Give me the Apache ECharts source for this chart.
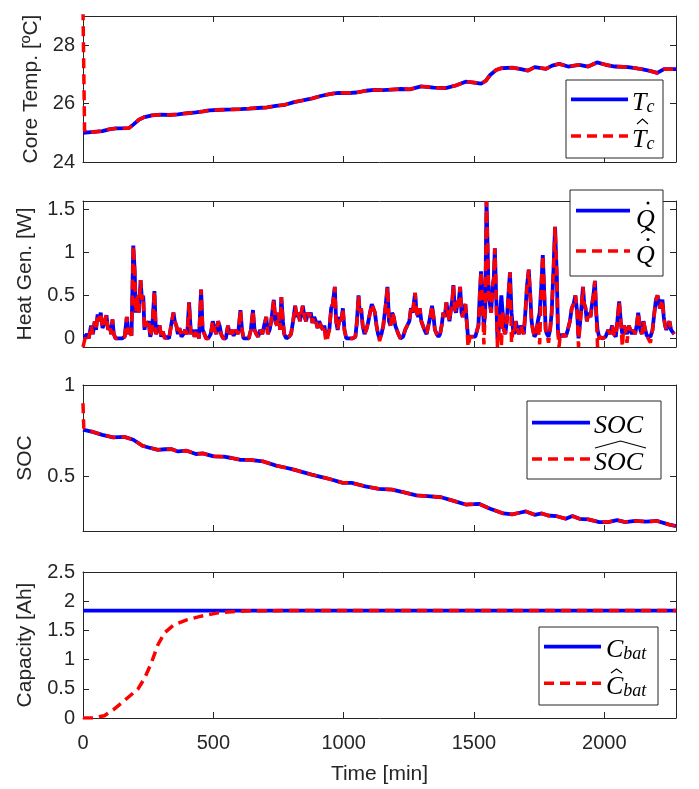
<!DOCTYPE html>
<html><head><meta charset="utf-8">
<script src="https://cdn.jsdelivr.net/npm/echarts@6/dist/echarts.min.js"></script>
<style>html,body{margin:0;padding:0;background:#fff}#c{width:699px;height:789px}</style>
</head><body><div id="c"></div>
<script>
// ---------- data ----------
const xTicks = [0, 500, 1000, 1500, 2000];
const tempTicks = [24, 26, 28];
const heatTicks = [0, 0.5, 1, 1.5];
const socTicks = [0.5, 1];
const capTicks = [0, 0.5, 1, 1.5, 2, 2.5];

const tempTime = [0,40,74,100,125,176,193,215,236,265,296,330,364,400,433,460,484,530,570,605,638,670,706,740,775,810,843,880,912,950,980,1015,1049,1085,1117,1150,1185,1220,1254,1297,1345,1391,1430,1468,1500,1527,1545,1562,1585,1604,1647,1680,1707,1733,1776,1800,1827,1861,1904,1938,1972,2005,2041,2092,2143,2175,2203,2229,2275];
const tempTrue = [25.00,25.03,25.06,25.12,25.15,25.16,25.28,25.45,25.54,25.60,25.62,25.61,25.63,25.67,25.70,25.73,25.77,25.79,25.80,25.81,25.83,25.85,25.87,25.92,25.96,26.05,26.11,26.18,26.26,26.33,26.37,26.36,26.38,26.44,26.47,26.46,26.48,26.50,26.49,26.59,26.55,26.53,26.62,26.75,26.72,26.68,26.78,26.98,27.15,27.21,27.23,27.18,27.13,27.25,27.19,27.30,27.36,27.27,27.33,27.27,27.41,27.33,27.27,27.25,27.18,27.12,27.05,27.18,27.18];
const tempEstTime = [0,6,12,40,74,100,125,176,193,215,236,265,296,330,364,400,433,460,484,530,570,605,638,670,706,740,775,810,843,880,912,950,980,1015,1049,1085,1117,1150,1185,1220,1254,1297,1345,1391,1430,1468,1500,1527,1545,1562,1585,1604,1647,1680,1707,1733,1776,1800,1827,1861,1904,1938,1972,2005,2041,2092,2143,2175,2203,2229,2275];
const tempEst = [29.2,25.1,25.0,25.03,25.06,25.12,25.15,25.16,25.28,25.45,25.54,25.60,25.62,25.61,25.63,25.67,25.70,25.73,25.77,25.79,25.80,25.81,25.83,25.85,25.87,25.92,25.96,26.05,26.11,26.18,26.26,26.33,26.37,26.36,26.38,26.44,26.47,26.46,26.48,26.50,26.49,26.59,26.55,26.53,26.62,26.75,26.72,26.68,26.78,26.98,27.15,27.21,27.23,27.18,27.13,27.25,27.19,27.30,27.36,27.27,27.33,27.27,27.41,27.33,27.27,27.25,27.18,27.12,27.05,27.18,27.18];

const heatTime = [0,8,15,22,31,38,45,50,56,62,68,75,82,90,96,102,108,113,118,125,135,150,160,168,174,180,186,193,198,203,208,214,221,226,231,236,241,246,252,258,265,274,280,287,294,300,306,314,322,330,338,347,352,358,364,370,378,385,392,400,407,414,420,428,436,445,453,459,466,472,480,490,498,505,512,518,524,530,538,548,556,563,570,578,586,595,604,610,616,626,636,644,652,658,665,672,680,688,695,703,709,716,722,732,738,744,750,756,761,767,772,780,790,798,806,814,820,826,832,843,850,856,862,868,874,880,887,893,900,906,913,920,926,932,938,945,952,958,966,971,977,985,991,997,1003,1010,1020,1035,1045,1051,1057,1062,1067,1073,1080,1087,1095,1101,1108,1114,1120,1126,1132,1138,1145,1152,1160,1168,1174,1180,1186,1192,1198,1204,1210,1218,1228,1236,1244,1252,1258,1265,1274,1280,1286,1292,1298,1304,1310,1318,1325,1332,1339,1345,1350,1357,1364,1370,1376,1382,1388,1394,1400,1406,1412,1417,1421,1426,1431,1436,1442,1447,1452,1457,1462,1467,1472,1477,1485,1495,1505,1512,1517,1522,1527,1533,1538,1543,1548,1552,1556,1561,1566,1571,1576,1580,1585,1590,1595,1600,1605,1610,1615,1620,1626,1632,1638,1644,1650,1655,1660,1667,1673,1679,1685,1691,1697,1703,1710,1716,1721,1726,1732,1738,1745,1752,1758,1764,1770,1775,1780,1786,1792,1798,1805,1811,1818,1822,1826,1832,1838,1845,1852,1860,1868,1875,1882,1889,1896,1901,1906,1912,1918,1923,1928,1933,1940,1947,1953,1958,1964,1969,1974,1980,1987,1995,2005,2015,2022,2030,2037,2044,2050,2057,2063,2069,2075,2081,2087,2094,2100,2106,2112,2118,2124,2130,2138,2144,2150,2157,2163,2170,2177,2185,2192,2198,2204,2208,2213,2218,2223,2228,2233,2238,2244,2250,2256,2262,2268,2275];
const heatTrue = [0.02,0.02,0.05,0.0,0.15,0.05,0.2,0.1,0.28,0.2,0.3,0.12,0.18,0.27,0.1,0.15,0.05,0.22,0.05,0.0,0.0,0.0,0.02,0.25,0.05,0.1,0.03,1.08,0.8,0.3,0.5,0.3,0.68,0.45,0.5,0.1,0.2,0.15,0.2,0.02,0.1,0.55,0.05,0.1,0.15,0.02,0.08,0.0,0.02,0.0,0.15,0.3,0.2,0.15,0.05,0.12,0.02,0.05,0.1,0.05,0.42,0.05,0.1,0.02,0.1,0.0,0.57,0.1,0.05,0.0,0.0,0.05,0.2,0.1,0.05,0.2,0.15,0.05,0.0,0.0,0.15,0.05,0.1,0.03,0.1,0.05,0.33,0.1,0.0,0.0,0.0,0.1,0.33,0.1,0.05,0.02,0.1,0.05,0.15,0.25,0.05,0.1,0.2,0.45,0.2,0.15,0.3,0.1,0.48,0.2,0.05,0.0,0.02,0.05,0.2,0.38,0.25,0.3,0.2,0.38,0.25,0.2,0.3,0.25,0.3,0.18,0.25,0.2,0.12,0.2,0.15,0.1,0.15,0.0,0.0,0.1,0.35,0.4,0.6,0.2,0.1,0.25,0.2,0.35,0.1,0.0,0.0,0.0,0.02,0.2,0.5,0.3,0.35,0.15,0.05,0.1,0.2,0.3,0.4,0.35,0.3,0.15,0.05,0.0,0.05,0.15,0.35,0.6,0.2,0.15,0.3,0.25,0.15,0.1,0.05,0.0,0.02,0.1,0.15,0.2,0.35,0.3,0.53,0.3,0.25,0.35,0.2,0.15,0.1,0.05,0.15,0.25,0.38,0.25,0.1,0.05,0.02,0.05,0.15,0.3,0.25,0.42,0.3,0.2,0.35,0.45,0.62,0.35,0.3,0.4,0.45,0.6,0.3,0.25,0.35,0.4,0.2,0.02,0.02,0.02,0.02,0.02,0.15,0.5,0.78,0.4,0.15,0.3,1.6,1.1,0.5,0.4,0.3,0.6,0.7,1.05,0.5,0.0,0.1,0.3,0.5,0.3,0.1,0.05,0.2,0.5,0.77,0.3,0.1,0.05,0.2,0.1,0.05,0.15,0.1,0.05,0.3,0.6,0.8,0.5,0.2,0.1,0.02,0.05,0.2,0.3,0.6,0.97,0.5,0.1,0.05,0.02,0.1,0.3,0.8,1.3,0.7,0.1,0.0,0.05,0.02,0.05,0.02,0.1,0.2,0.35,0.4,0.5,0.3,0.0,0.15,0.35,0.6,0.4,0.35,0.2,0.3,0.25,0.4,0.5,0.67,0.3,0.1,0.02,0.0,0.0,0.02,0.1,0.05,0.15,0.05,0.02,0.2,0.43,0.2,0.05,0.15,0.1,0.05,0.15,0.1,0.05,0.1,0.05,0.15,0.3,0.1,0.05,0.2,0.1,0.03,0.05,0.02,0.1,0.3,0.45,0.5,0.45,0.35,0.4,0.45,0.25,0.15,0.1,0.12,0.2,0.1,0.08,0.05];
const heatEst = [-0.1,0.0,0.05,0.0,0.15,0.05,0.2,0.1,0.28,0.2,0.3,0.12,0.18,0.27,0.1,0.15,0.05,0.22,0.05,0.0,0.0,0.0,0.02,0.25,0.05,0.1,0.03,1.08,0.8,0.3,0.5,0.3,0.68,0.45,0.5,0.1,0.2,0.15,0.2,0.02,0.1,0.55,0.05,0.1,0.15,0.02,0.08,0.0,0.02,0.0,0.15,0.3,0.2,0.15,0.05,0.12,0.02,0.05,0.1,0.05,0.42,0.05,0.1,0.02,0.1,0.0,0.57,0.1,0.05,0.0,0.0,0.05,0.2,0.1,0.05,0.2,0.15,0.05,0.0,0.0,0.15,0.05,0.1,0.03,0.1,0.05,0.33,0.1,0.0,0.0,0.0,0.1,0.33,0.1,0.05,0.02,0.1,0.05,0.15,0.25,0.05,0.1,0.2,0.45,0.2,0.15,0.3,0.1,0.48,0.2,0.05,0.0,0.02,0.05,0.2,0.38,0.25,0.3,0.2,0.38,0.25,0.2,0.3,0.25,0.3,0.18,0.25,0.2,0.12,0.2,0.15,0.1,0.15,-0.04,0.0,0.1,0.35,0.4,0.6,0.2,0.1,0.25,0.2,0.35,0.1,0.0,0.0,0.0,0.02,0.2,0.5,0.3,0.35,0.15,0.05,0.1,0.2,0.3,0.4,0.35,0.3,0.15,0.05,-0.03,0.05,0.15,0.35,0.6,0.2,0.15,0.3,0.25,0.15,0.1,0.05,0.0,0.02,0.1,0.15,0.2,0.35,0.3,0.53,0.3,0.25,0.35,0.2,0.15,0.1,0.05,0.15,0.25,0.38,0.25,0.1,0.05,0.02,0.05,0.15,0.3,0.25,0.42,0.3,0.2,0.35,0.45,0.62,0.35,0.3,0.4,0.45,0.6,0.3,0.25,0.35,0.4,0.2,-0.1,0.02,0.02,0.02,0.02,0.15,0.5,0.78,0.4,-0.07,0.3,1.6,1.1,0.5,0.4,0.3,0.6,0.7,1.05,0.5,-0.1,0.1,0.3,-0.1,0.3,0.1,0.05,0.2,0.5,0.77,-0.05,0.1,0.05,0.2,0.1,0.05,0.15,0.1,0.05,0.3,0.6,0.8,0.5,0.2,0.1,0.02,0.05,0.2,-0.07,0.6,0.97,0.5,0.1,0.05,-0.05,0.1,0.3,0.8,1.3,0.7,0.1,-0.1,0.05,0.02,0.05,0.02,0.1,0.2,0.35,0.4,0.5,0.3,-0.1,0.15,0.35,0.6,0.4,0.35,0.2,0.3,0.25,0.4,0.5,0.67,0.3,-0.1,0.02,0.0,0.0,0.02,0.1,0.05,0.15,0.05,0.02,0.2,0.43,0.2,-0.1,0.15,0.1,-0.05,0.15,0.1,0.05,0.1,0.05,0.15,0.3,0.1,0.05,0.2,0.1,0.03,0.05,-0.05,0.1,0.3,0.45,0.5,0.45,0.35,0.4,0.45,0.25,0.15,0.1,0.12,0.2,0.1,0.08,0.05];

const socTime = [0,40,74,116,159,193,228,258,287,313,339,364,398,433,460,501,540,570,604,640,689,741,775,809,843,877,912,946,997,1031,1083,1134,1185,1228,1279,1322,1374,1425,1468,1500,1519,1562,1613,1647,1675,1699,1733,1760,1784,1815,1852,1878,1905,1938,1981,2015,2049,2080,2118,2160,2203,2246,2275];
const socTrue = [0.755,0.742,0.727,0.713,0.716,0.700,0.667,0.655,0.645,0.648,0.649,0.636,0.640,0.622,0.625,0.609,0.607,0.600,0.590,0.590,0.582,0.558,0.548,0.536,0.523,0.509,0.497,0.485,0.464,0.464,0.445,0.431,0.427,0.413,0.395,0.391,0.385,0.364,0.345,0.347,0.349,0.322,0.296,0.291,0.300,0.307,0.289,0.296,0.285,0.282,0.267,0.282,0.267,0.264,0.249,0.249,0.260,0.249,0.255,0.251,0.255,0.236,0.227];
const socEstTime = [0,3,8,40,74,116,159,193,228,258,287,313,339,364,398,433,460,501,540,570,604,640,689,741,775,809,843,877,912,946,997,1031,1083,1134,1185,1228,1279,1322,1374,1425,1468,1500,1519,1562,1613,1647,1675,1699,1733,1760,1784,1815,1852,1878,1905,1938,1981,2015,2049,2080,2118,2160,2203,2246,2275];
const socEst = [0.90,0.765,0.755,0.742,0.727,0.713,0.716,0.700,0.667,0.655,0.645,0.648,0.649,0.636,0.640,0.622,0.625,0.609,0.607,0.600,0.590,0.590,0.582,0.558,0.548,0.536,0.523,0.509,0.497,0.485,0.464,0.464,0.445,0.431,0.427,0.413,0.395,0.391,0.385,0.364,0.345,0.347,0.349,0.322,0.296,0.291,0.300,0.307,0.289,0.296,0.285,0.282,0.267,0.282,0.267,0.264,0.249,0.249,0.260,0.249,0.255,0.251,0.255,0.236,0.227];

const capTime = [0, 2275];
const capTrue = [1.84, 1.84];
const capEstTime = [0,39,82,116,159,193,210,236,262,287,313,347,398,450,518,570,638,800,1200,1600,2000,2275];
const capEst = [0,0,0.04,0.14,0.30,0.43,0.49,0.68,0.94,1.25,1.46,1.59,1.68,1.74,1.80,1.82,1.835,1.84,1.84,1.84,1.84,1.84];

// ---------- chart ----------
const AX = '#262626';
const SANS = 'Liberation Sans';
const SERIF = 'Liberation Serif';
const grids = [
  {left: 83, right: 23, top: 16, height: 146},
  {left: 83, right: 23, top: 201, height: 146},
  {left: 83, right: 23, top: 385, height: 146},
  {left: 83, right: 23, top: 572, height: 146}
];
const yCfg = [
  {min: 24, max: 29, ticks: tempTicks, name: 'Core Temp. [ºC]', gap: 41},
  {min: -0.1, max: 1.6, ticks: heatTicks, name: 'Heat Gen. [W]', gap: 47},
  {min: 0.2, max: 1, ticks: socTicks, name: 'SOC', gap: 47},
  {min: 0, max: 2.5, ticks: capTicks, name: 'Capacity [Ah]', gap: 47}
];
const plain = v => String(v);
const xAxis = [], yAxis = [];
grids.forEach((g, i) => {
  const last = i === 3;
  ['bottom', 'top'].forEach(pos => {
    const main = pos === 'bottom';
    xAxis.push({
      type: 'value', gridIndex: i, position: pos, min: 0, max: 2275,
      axisLine: {show: true, onZero: false, lineStyle: {color: AX, width: 1}},
      axisTick: {show: true, inside: true, length: 6, customValues: xTicks, lineStyle: {color: AX}},
      axisLabel: {show: main && last, customValues: xTicks, formatter: plain, fontSize: 20, color: AX, fontFamily: SANS, margin: 15},
      splitLine: {show: false},
      name: main && last ? 'Time [min]' : '', nameLocation: 'middle', nameGap: 46,
      nameTextStyle: {fontSize: 21, color: AX, fontFamily: SANS}
    });
  });
  const c = yCfg[i];
  ['left', 'right'].forEach(pos => {
    const main = pos === 'left';
    yAxis.push({
      type: 'value', gridIndex: i, position: pos, min: c.min, max: c.max,
      axisLine: {show: true, onZero: false, lineStyle: {color: AX, width: 1}},
      axisTick: {show: true, inside: true, length: 6, customValues: c.ticks, lineStyle: {color: AX}},
      axisLabel: {show: main, customValues: c.ticks, formatter: plain, fontSize: 20, color: AX, fontFamily: SANS, margin: 8},
      splitLine: {show: false},
      name: main ? c.name : '', nameLocation: 'middle', nameGap: c.gap, nameRotate: 90,
      nameTextStyle: {fontSize: 21, color: AX, fontFamily: SANS}
    });
  });
});

const pairs = (t, v) => t.map((x, k) => [x, v[k]]);
function trueS(i, t, v) {
  return {type: 'line', xAxisIndex: 2 * i, yAxisIndex: 2 * i, data: pairs(t, v), symbol: 'none', showSymbol: false,
    lineStyle: {color: '#0000FF', width: 3.8}, z: 2, animation: false};
}
function estS(i, t, v) {
  return {type: 'line', xAxisIndex: 2 * i, yAxisIndex: 2 * i, data: pairs(t, v), symbol: 'none', showSymbol: false,
    lineStyle: {color: '#FF0000', width: 3.5, type: [10, 6]}, z: 3, animation: false};
}
const series = [
  trueS(0, tempTime, tempTrue), estS(0, tempEstTime, tempEst),
  trueS(1, heatTime, heatTrue), estS(1, heatTime, heatEst),
  trueS(2, socTime, socTrue), estS(2, socEstTime, socEst),
  trueS(3, capTime, capTrue), estS(3, capEstTime, capEst)
];

// ---------- legends (MATLAB style boxes) ----------
const rich = {
  m: {fontSize: 26, fontStyle: 'italic', fontFamily: SERIF, color: '#000', lineHeight: 30, verticalAlign: 'bottom'},
  s: {fontSize: 18, fontStyle: 'italic', fontFamily: SERIF, color: '#000', lineHeight: 15, verticalAlign: 'bottom'}
};
function legend(box, rows, lx0, lx1, tx, texts, tys, extras) {
  const els = [{type: 'rect', shape: {x: box[0], y: box[1], width: box[2], height: box[3]},
    style: {fill: '#fff', stroke: AX, lineWidth: 1}, z: 100}];
  els.push({type: 'line', shape: {x1: lx0, y1: rows[0], x2: lx1, y2: rows[0]}, style: {stroke: '#0000FF', lineWidth: 3.8}, z: 101});
  els.push({type: 'line', shape: {x1: lx0, y1: rows[1], x2: lx1, y2: rows[1]}, style: {stroke: '#FF0000', lineWidth: 3.5, lineDash: [10, 6]}, z: 101});
  texts.forEach((t, k) => els.push({type: 'text', x: tx, y: tys[k], z: 101,
    style: {text: t, rich: rich, verticalAlign: 'middle', align: 'left'}}));
  (extras || []).forEach(e => { e.z = 102; els.push(e); });
  return els;
}
const hat = (x0, x1, yb, h) => ({type: 'polyline', shape: {points: [[x0, yb], [(x0 + x1) / 2, yb - h], [x1, yb]]},
  style: {stroke: '#000', lineWidth: 1.1, fill: null}});
const dot = (x, y) => ({type: 'circle', shape: {cx: x, cy: y, r: 1.5}, style: {fill: '#000'}});

const graphic = [].concat(
  legend([566, 80, 97, 78], [99.3, 136], 571, 628, 632, ['{m|T}{s|c}', '{m|T}{s|c}'], [101, 138],
    [hat(637, 648, 124, 5)]),
  legend([570, 190, 93, 86], [210.7, 251], 576, 630, 636, ['{m|Q}', '{m|Q}'], [218, 254],
    [dot(648, 203), dot(648, 239.5), hat(641, 655, 233, 5)]),
  legend([527, 401, 134, 78], [422.7, 459], 532, 590, 594, ['{m|SOC}', '{m|SOC}'], [424, 461],
    [hat(595, 646, 448, 7)]),
  legend([539, 627, 119, 78], [646.7, 683.3], 544, 601, 606, ['{m|C}{s|bat}', '{m|C}{s|bat}'], [648, 685],
    [hat(611, 622, 673, 4)])
);

const chart = echarts.init(document.getElementById('c'), null, {renderer: 'canvas'});
chart.setOption({
  animation: false,
  backgroundColor: '#fff',
  grid: grids,
  xAxis: xAxis,
  yAxis: yAxis,
  series: series,
  graphic: graphic
});
</script>
</body></html>
